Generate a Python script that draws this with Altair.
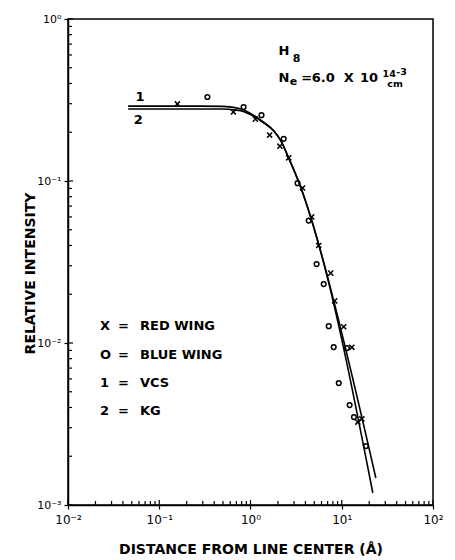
import altair as alt
import pandas as pd

# ---------------- data ----------------
# Red wing measurements (X markers)
red_x = [0.158, 0.65, 1.13, 1.62, 2.1, 2.62, 3.72, 4.68, 5.59, 7.57, 8.37, 10.5, 12.9, 15.0, 16.6]
red_y = [0.299, 0.267, 0.241, 0.192, 0.164, 0.139, 0.0905, 0.060, 0.040, 0.027, 0.0182, 0.0126, 0.0094, 0.00325, 0.0034]
# Blue wing measurements (O markers)
blue_x = [0.337, 0.84, 1.32, 2.31, 3.28, 4.34, 5.3, 6.34, 7.2, 8.16, 9.27, 11.4, 12.2, 13.6, 18.4]
blue_y = [0.33, 0.286, 0.255, 0.182, 0.097, 0.057, 0.0307, 0.0231, 0.0127, 0.00944, 0.00566, 0.0093, 0.00414, 0.00349, 0.00231]
# Theory curves
vcs_x = [0.0456, 0.283, 0.5, 0.776, 1.135, 1.355, 1.789, 2.14, 2.616, 3.544, 4.563, 5.731, 23.64]
vcs_y = [0.290, 0.290, 0.289, 0.279, 0.250, 0.233, 0.205, 0.178, 0.139, 0.0918, 0.0599, 0.0386, 0.001467]
kg_x = [0.0456, 0.283, 0.5, 0.776, 1.135, 1.355, 1.789, 2.14, 2.616, 3.544, 4.563, 5.731, 21.91]
kg_y = [0.278, 0.278, 0.278, 0.272, 0.247, 0.231, 0.204, 0.178, 0.139, 0.0918, 0.0599, 0.0386, 0.001186]

x_major = [0.01, 0.1, 1, 10, 100]
y_major = [0.001, 0.01, 0.1, 1]
x_minor = [m * d for d in [0.01, 0.1, 1, 10] for m in range(2, 10)]
y_minor = [m * d for d in [0.001, 0.01, 0.1] for m in range(2, 10)]

sup_labels = "['10⁻³','10⁻²','10⁻¹','10⁰','10¹','10²']"
label_expr = sup_labels + "[round(log(datum.value)/LN10)+3]"

# ---------------- chart ----------------
W, H = 365, 486
FONT = "DejaVu Sans"

xscale = alt.Scale(type="log", domain=[0.01, 100], nice=False)
yscale = alt.Scale(type="log", domain=[0.001, 1], nice=False)

xaxis = alt.Axis(values=x_major, labelExpr=label_expr, grid=False,
                 tickSize=4, tickColor="black", tickWidth=1.2,
                 domainColor="black", domainWidth=1.5,
                 labelFont="DejaVu Sans", labelFontSize=12, labelColor="black",
                 labelPadding=5, labelFlush=False,
                 title="DISTANCE FROM  LINE CENTER (Å)", titleFont=FONT,
                 titleFontSize=14, titleFontWeight="bold", titleColor="black",
                 titleY=48, titleBaseline="alphabetic")
yaxis = alt.Axis(values=y_major, labelExpr=label_expr, grid=False,
                 tickSize=4, tickColor="black", tickWidth=1.2,
                 domainColor="black", domainWidth=1.5,
                 labelFont="DejaVu Sans", labelFontSize=11, labelColor="black",
                 labelPadding=3, labelFlush=False,
                 title="RELATIVE  INTENSITY", titleFont=FONT,
                 titleFontSize=14, titleFontWeight="bold", titleColor="black",
                 titleX=-34, titleY=254, titleAngle=270, titleBaseline="alphabetic")

X = alt.X("x:Q", scale=xscale, axis=xaxis)
Y = alt.Y("y:Q", scale=yscale, axis=yaxis)

curves = pd.DataFrame({
    "x": vcs_x + kg_x,
    "y": vcs_y + kg_y,
    "curve": ["VCS"] * len(vcs_x) + ["KG"] * len(kg_x),
})
red = pd.DataFrame({"x": red_x, "y": red_y})
blue = pd.DataFrame({"x": blue_x, "y": blue_y})

lines = alt.Chart(curves).mark_line(color="black", strokeWidth=1.6, interpolate="monotone").encode(
    x=X, y=Y, detail="curve:N")

red_pts = alt.Chart(red).mark_point(shape="M-1,-1L1,1M-1,1L1,-1", size=26, color="black",
                                    strokeWidth=1.5, filled=False, opacity=1).encode(x=X, y=Y)
blue_pts = alt.Chart(blue).mark_point(shape="circle", size=22, color="black",
                                      strokeWidth=1.5, filled=False, opacity=1).encode(x=X, y=Y)

# inward ticks
xmaj = alt.Chart(pd.DataFrame({"x": x_major})).mark_rule(color="black", strokeWidth=1.2).encode(
    x=X, y=alt.value(H), y2=alt.value(H - 5))
xmin = alt.Chart(pd.DataFrame({"x": x_minor})).mark_rule(color="black", strokeWidth=1.2).encode(
    x=X, y=alt.value(H), y2=alt.value(H - 4))
ymaj = alt.Chart(pd.DataFrame({"y": y_major})).mark_rule(color="black", strokeWidth=1.2).encode(
    y=Y, x=alt.value(0), x2=alt.value(5))
ymin = alt.Chart(pd.DataFrame({"y": y_minor})).mark_rule(color="black", strokeWidth=1.2).encode(
    y=Y, x=alt.value(0), x2=alt.value(4))

# annotation texts (data coordinates)
ann_text = ["H", "8", "N", "e", "=", "6.0", "X", "10", "14", "cm", "-3", "1", "2"]
ann_x = [2.03, 2.9, 2.03, 2.69, 3.6, 4.7, 10.5, 15.8, 28.0, 31.6, 39.5, 0.0548, 0.0525]
ann_y = [0.6, 0.543, 0.408, 0.392, 0.408, 0.408, 0.408, 0.408, 0.438, 0.38, 0.451, 0.313, 0.225]
ann_size = [13, 11, 13, 11, 13, 13, 13, 13, 9.5, 9.5, 9.5, 13, 13]
ann = pd.DataFrame({"x": ann_x, "y": ann_y, "t": ann_text, "s": ann_size})
ann_layer = alt.Chart(ann).mark_text(align="left", baseline="alphabetic", font=FONT,
                                     fontWeight="bold", color="black").encode(
    x=X, y=Y, text="t:N", size=alt.Size("s:Q", scale=None, legend=None))

legend_sym = ["X", "O", "1", "2"]
legend_lab = ["RED WING", "BLUE WING", "VCS", "KG"]
legend_y = [0.01203, 0.00797, 0.00535, 0.0036]
leg = pd.DataFrame({"y": legend_y, "sym": legend_sym, "lab": legend_lab})
leg_sym = alt.Chart(leg).mark_text(align="left", baseline="alphabetic", font=FONT, fontWeight="bold",
                                   fontSize=13, color="black").encode(
    x=alt.value(32), y=Y, text="sym:N")
leg_eq = alt.Chart(leg).mark_text(align="left", baseline="alphabetic", font=FONT, fontWeight="bold",
                                  fontSize=13, color="black", text="=").encode(
    x=alt.value(50), y=Y)
leg_lab = alt.Chart(leg).mark_text(align="left", baseline="alphabetic", font=FONT, fontWeight="bold",
                                   fontSize=13, color="black").encode(
    x=alt.value(72), y=Y, text="lab:N")

chart = alt.layer(xmin, xmaj, ymin, ymaj, lines, red_pts, blue_pts, ann_layer,
                  leg_sym, leg_eq, leg_lab).properties(
    width=W, height=H,
    autosize=alt.AutoSizeParams(type="none"),
    padding={"left": 68, "top": 19, "right": 22, "bottom": 55},
    background="white",
).configure_view(stroke="black", strokeWidth=1.5)

chart.save("out.html", embed_options={"renderer": "svg", "actions": False})
